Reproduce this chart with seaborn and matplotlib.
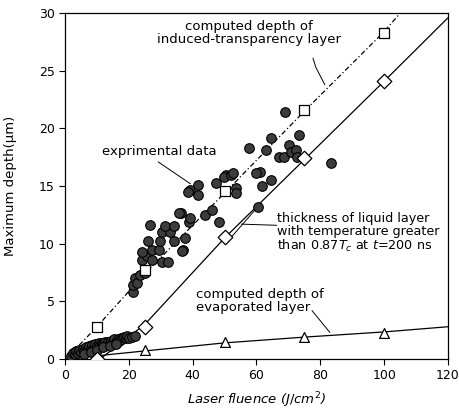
import numpy as np
import pandas as pd
import matplotlib
matplotlib.use("Agg")
import matplotlib.pyplot as plt
import seaborn as sns

exp_x = [2, 2.5, 3, 3.5, 4, 4.5, 5, 5.5, 6, 6.5, 7, 7.5, 8, 8.5, 9, 9.5, 10, 10.5,
         11, 11.5, 12, 12.5, 13, 13.5, 14, 14.5, 15, 15.5, 16, 16.5, 17, 17.5, 18,
         18.5, 19, 19.5, 20, 21, 22, 6, 8, 10, 12, 14, 16,
         21.4, 21.4, 22, 22.7, 23.6, 25, 24.2, 25.8, 27.4, 30.5, 32.4, 24.2, 27.4,
         29.4, 37.1, 26.1, 29.9, 34, 37.7, 30.5, 33, 26.7, 31.4, 34.3, 36.2, 39,
         36.8, 35.8, 39.3, 44, 46.2, 48.1, 39.3, 41.8, 41.8, 38.5, 47.2, 50.3,
         49.7, 51.9, 52.6, 53.5, 53.5, 57.6, 60.4, 61, 60, 61.6, 64.5, 63.1,
         64.5, 67.1, 68.6, 70.2, 70.8, 72.3, 72.7, 73.2, 68.9, 83.3]
exp_y = [0.3, 0.5, 0.4, 0.7, 0.5, 0.8, 0.6, 0.9, 0.7, 1.0, 0.8, 1.1, 0.9, 1.2, 1.0,
         1.3, 1.1, 1.4, 1.2, 1.4, 1.3, 1.5, 1.2, 1.5, 1.4, 1.6, 1.5, 1.7, 1.5, 1.7,
         1.6, 1.8, 1.7, 1.9, 1.8, 2.0, 1.8, 1.9, 2.0, 0.4, 0.6, 0.8, 1.0, 1.1, 1.3,
         5.8, 6.4, 7.0, 6.6, 7.3, 7.5, 8.6, 8.9, 8.6, 8.4, 8.4, 9.3, 9.5, 9.5, 9.5,
         10.2, 10.2, 10.2, 10.5, 11.0, 11.0, 11.6, 11.5, 11.5, 12.7, 11.9, 9.4,
         12.7, 12.2, 12.5, 12.9, 11.9, 14.7, 15.1, 14.2, 14.5, 15.3, 16.0, 15.8,
         16.0, 16.1, 14.8, 14.4, 18.3, 13.2, 16.2, 16.1, 15.0, 15.5, 18.1, 19.2,
         17.5, 17.5, 18.6, 18.0, 18.1, 17.5, 19.4, 21.4, 17.0]

# computed depth of induced-transparency layer
trans_x = [10, 25, 50, 75, 100]
trans_y = [2.8, 7.7, 14.6, 21.6, 28.3]
trans_line_x = [2, 10, 25, 50, 75, 100, 105]
trans_line_y = [0.5, 2.8, 7.4, 14.4, 21.5, 28.4, 30.0]

# thickness of liquid layer
liq_x = [10, 25, 50, 75, 100]
liq_y = [0.0, 2.8, 10.6, 17.4, 24.1]
liq_line_x = [11, 25, 50, 75, 100, 120]
liq_line_y = [0.0, 3.0, 10.5, 17.3, 24.1, 29.6]

# computed depth of evaporated layer
evap_x = [25, 50, 75, 100]
evap_y = [0.75, 1.45, 1.9, 2.3]
evap_line_x = [0, 25, 50, 75, 100, 120]
evap_line_y = [0.0, 0.7, 1.4, 1.9, 2.35, 2.8]

sns.set_style("ticks")
plt.rcParams['font.family'] = ['DejaVu Sans']
plt.rcParams['mathtext.fontset'] = 'dejavusans'
plt.rcParams['text.color'] = 'black'
plt.rcParams['axes.labelcolor'] = 'black'

fig = plt.figure(figsize=(4.59, 4.12), dpi=100)
ax = fig.add_axes([0.1416, 0.1286, 0.8344, 0.8394])

ln = dict(color='black', linewidth=0.9, estimator=None, sort=False, ax=ax, legend=False)
sns.lineplot(x=trans_line_x, y=trans_line_y, linestyle=(0, (4, 2, 1, 2)), **ln)
sns.lineplot(x=liq_line_x, y=liq_line_y, **ln)
sns.lineplot(x=evap_line_x, y=evap_line_y, **ln)

df = pd.DataFrame({'fluence': exp_x, 'depth': exp_y})
sns.scatterplot(data=df, x='fluence', y='depth', s=48, color='#3c3c3c',
                edgecolor='black', linewidth=0.8, ax=ax, zorder=3)

mk = dict(facecolor='white', edgecolor='black', linewidth=0.9, ax=ax, zorder=4)
sns.scatterplot(x=trans_x, y=trans_y, marker='s', s=45, **mk)
sns.scatterplot(x=liq_x, y=liq_y, marker='D', s=55, **mk)
sns.scatterplot(x=evap_x, y=evap_y, marker='^', s=50, **mk)

fs = 9.5
ax.text(57.5, 28.3, "computed depth of\ninduced-transparency layer", fontsize=fs,
        ha='center', va='center', linespacing=1.0)
ax.plot([77.7, 78.6, 81.4], [26.1, 25.3, 23.8], color='black', linewidth=0.7)

ax.text(29.5, 18.0, "exprimental data", fontsize=fs, ha='center', va='center')
ax.plot([29.2, 39.3], [17.1, 15.2], color='black', linewidth=0.7)

ax.text(66.4, 10.9, "thickness of liquid layer\nwith temperature greater\nthan 0.87$T_c$ at $t$=200 ns",
        fontsize=9.2, ha='left', va='center', linespacing=1.0)
ax.plot([66.3, 55.3], [11.6, 11.7], color='black', linewidth=0.7)
ax.plot([60.4, 52.2], [13.2, 10.6], color='black', linewidth=0.7)

ax.text(40.9, 5.0, "computed depth of\nevaporated layer", fontsize=fs,
        ha='left', va='center', linespacing=1.0)
ax.plot([77.4, 83.0], [4.2, 2.3], color='black', linewidth=0.7)

ax.set_xlim(0, 120)
ax.set_ylim(0, 30)
ax.set_xticks(np.arange(0, 121, 20))
ax.set_yticks(np.arange(0, 31, 5))
ax.tick_params(direction='out', length=4, width=0.8, labelsize=9, colors='black')
for s in ax.spines.values():
    s.set_visible(True)
    s.set_linewidth(0.9)
    s.set_color('black')

ax.set_xlabel("Laser fluence ($J/cm^2$)", fontsize=fs, style='italic', labelpad=6)
ax.set_ylabel("Maximum depth(μm)", fontsize=fs)
ax.yaxis.set_label_coords(-0.125, 0.5)

fig.savefig("out.png", dpi=100)
